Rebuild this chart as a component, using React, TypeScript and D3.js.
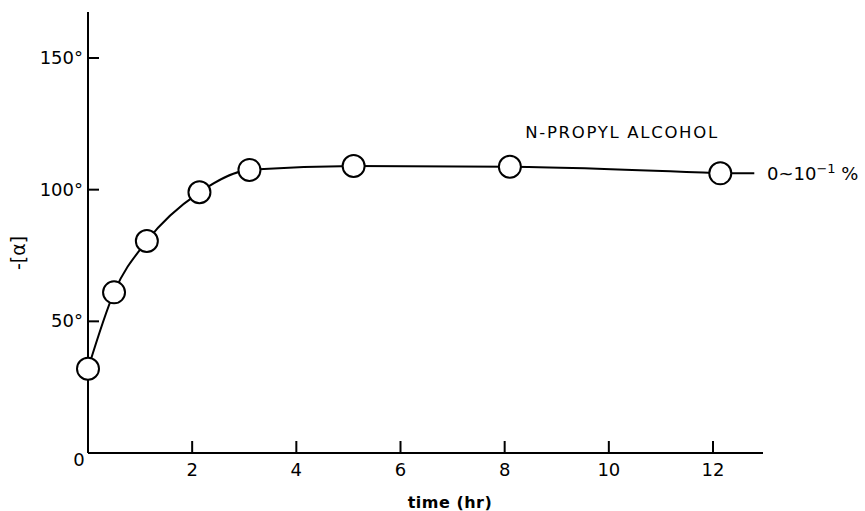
import React from "react";
import * as d3 from "d3";

// Optical rotation vs. time, n-propyl alcohol 0~10^-1 %
const timeHr = [0, 0.5, 1.13, 2.14, 3.1, 5.1, 8.1, 12.14];
const rotation = [32, 61, 80.5, 99, 107.5, 109, 108.7, 106.2];
const xTicks = [2, 4, 6, 8, 10, 12];
const yTicks = [50, 100, 150];

const W = 865;
const H = 511;
const FONT = "'DejaVu Sans', sans-serif";

export default function App() {
  const x = d3.scaleLinear().domain([0, 12]).range([88, 713]);
  const y = d3.scaleLinear().domain([0, 150]).range([453, 58]);
  const pts = timeHr.map((t, i) => [t, rotation[i]] as [number, number]);
  const line = d3
    .line<[number, number]>()
    .x((d) => x(d[0]))
    .y((d) => y(d[1]))
    .curve(d3.curveMonotoneX);
  const last = pts[pts.length - 1];

  return (
    <svg
      width={W}
      height={H}
      style={{ position: "absolute", left: 0, top: 0, background: "#fff" }}
    >
      {/* axes */}
      <line x1={x(0)} y1={y(0)} x2={763} y2={y(0)} stroke="#000" strokeWidth={2} />
      <line x1={x(0)} y1={y(0)} x2={x(0)} y2={12} stroke="#000" strokeWidth={2} />
      {xTicks.map((t) => (
        <g key={"xt" + t}>
          <line x1={x(t)} x2={x(t)} y1={y(0)} y2={y(0) - 12} stroke="#000" strokeWidth={2} />
          <text x={x(t)} y={476} textAnchor="middle" fontFamily={FONT} fontSize={18}>
            {t}
          </text>
        </g>
      ))}
      <text x={x(0) - 9} y={466} textAnchor="middle" fontFamily={FONT} fontSize={18}>
        0
      </text>
      {yTicks.map((v) => (
        <g key={"yt" + v}>
          <line x1={x(0)} x2={x(0) + 11} y1={y(v)} y2={y(v)} stroke="#000" strokeWidth={2} />
          <text x={83} y={y(v) + 6} textAnchor="end" fontFamily={FONT} fontSize={18}>
            {v}°
          </text>
        </g>
      ))}
      <text
        x={450}
        y={508}
        textAnchor="middle"
        fontFamily={FONT}
        fontSize={16}
        fontWeight="bold"
        letterSpacing={0.5}
      >
        time (hr)
      </text>
      <text
        transform="translate(25,253) rotate(-90)"
        textAnchor="middle"
        fontFamily={FONT}
        fontSize={19}
      >
        -[α]
      </text>

      {/* curve and markers */}
      <path d={line(pts) ?? ""} fill="none" stroke="#000" strokeWidth={2} />
      <line x1={x(last[0])} x2={x(last[0]) + 34} y1={y(last[1])} y2={y(last[1])} stroke="#000" strokeWidth={2} />
      {pts.map((d, i) => (
        <circle key={i} cx={x(d[0])} cy={y(d[1])} r={11} fill="#fff" stroke="#000" strokeWidth={2} />
      ))}

      <text
        x={622}
        y={138}
        textAnchor="middle"
        fontFamily={FONT}
        fontSize={16.5}
        letterSpacing={1.7}
      >
        N-PROPYL ALCOHOL
      </text>
      <text x={767} y={180} fontFamily={FONT} fontSize={18}>
        0~10
        <tspan dy={-7} fontSize={13}>−1</tspan>
        <tspan dy={7}>  %</tspan>
      </text>
    </svg>
  );
}
